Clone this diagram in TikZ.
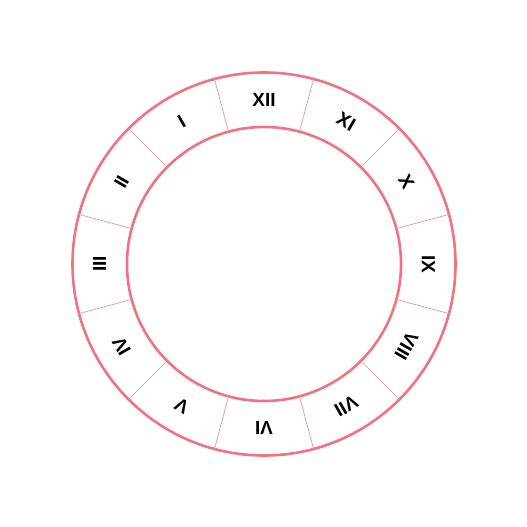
\documentclass[tikz,border=0pt]{standalone}
\usepackage{fontspec}
\setmainfont{Liberation Sans}
\definecolor{ringpink}{HTML}{F0737F}
\begin{document}
\begin{tikzpicture}[x=1pt,y=1pt,
    ring/.style={draw=ringpink, line width=2.6pt},
    divider/.style={draw=ringpink!80, line width=0.7pt},
    numeral/.style={font=\fontsize{19}{19}\selectfont\bfseries, inner sep=0pt}]
        \useasboundingbox (-264,-263) rectangle (263,264);
        \draw[ring] (0,0) circle (191.5);
        \draw[ring] (0,0) circle (137);
        \foreach \a in {15,45,...,345} {
            \draw[divider] (\a:137) -- (\a:191.5);
        }
        \foreach \n/\r in {1/I,2/II,3/III,4/IV,5/V,6/VI,7/VII,8/VIII,9/IX,10/X,11/XI,12/XII} {
            \node[numeral, rotate=30*\n] (h\n) at ({90+30*\n}:164.5) {\r};
        }
    \end{tikzpicture}
\end{document}
